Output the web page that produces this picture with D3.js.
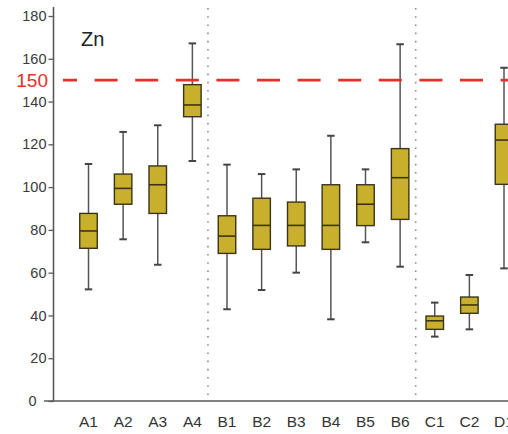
<!DOCTYPE html>
<html>
<head>
<meta charset="utf-8">
<script src="https://cdn.jsdelivr.net/npm/d3@7"></script>
<style>
  html, body { margin: 0; padding: 0; background: #fff; }
  svg { display: block; font-family: "Liberation Sans", Arial, sans-serif; }
</style>
</head>
<body>
<svg id="chart" width="508" height="434"></svg>
<script>
// Zn concentrations per sampling site (five-number summaries)
const sites   = ["A1", "A2", "A3", "A4", "B1", "B2", "B3", "B4", "B5", "B6", "C1", "C2", "D1"];
const minima  = [52.2, 75.6, 63.7, 112.2, 42.9, 51.9, 60.0, 38.2, 74.2, 62.8, 30.1, 33.5, 62.0];
const q1s     = [71.4, 92.0, 87.7, 132.9, 69.0, 70.9, 72.5, 70.9, 82.0, 84.9, 33.5, 41.0, 101.3];
const medians = [79.5, 99.4, 101.1, 138.4, 77.1, 82.1, 82.1, 82.1, 92.0, 104.4, 37.5, 44.9, 122.0];
const q3s     = [87.7, 106.1, 109.9, 147.9, 86.6, 94.8, 93.0, 101.1, 101.1, 118.0, 39.7, 48.6, 129.4];
const maxima  = [110.8, 125.8, 128.9, 167.2, 110.5, 106.1, 108.3, 124.0, 108.3, 166.8, 46.0, 58.9, 155.8];

const yTicks = [0, 20, 40, 60, 80, 100, 120, 140, 160, 180];
const limitValue = 150;
const groupBreaks = ["A4", "B6"];   // dotted separators drawn after these sites
const elementLabel = "Zn";

const svg = d3.select("#chart");

const y = d3.scaleLinear().domain([0, 180]).range([401, 16]);
const x = d3.scalePoint().domain(sites).range([88.5, 504]);
const step = x.step();

const boxW = 17.5, capW = 7.5;
const axisColor = "#5a5a5a";

// group separators
svg.append("g").selectAll("line")
  .data(groupBreaks)
  .join("line")
  .attr("x1", d => x(d) + step * 0.45)
  .attr("x2", d => x(d) + step * 0.45)
  .attr("y1", 8)
  .attr("y2", 401)
  .attr("stroke", "#8a8a8a")
  .attr("stroke-width", 1.6)
  .attr("stroke-dasharray", "1.6 6.6");

// boxes
const data = sites.map((s, i) => ({
  site: s, min: minima[i], q1: q1s[i], med: medians[i], q3: q3s[i], max: maxima[i]
}));

const g = svg.append("g").selectAll("g")
  .data(data)
  .join("g")
  .attr("transform", d => `translate(${x(d.site)},0)`);

// whiskers
g.append("line")
  .attr("x1", 0).attr("x2", 0)
  .attr("y1", d => y(d.max)).attr("y2", d => y(d.q3))
  .attr("stroke", "#555").attr("stroke-width", 1.5);
g.append("line")
  .attr("x1", 0).attr("x2", 0)
  .attr("y1", d => y(d.q1)).attr("y2", d => y(d.min))
  .attr("stroke", "#555").attr("stroke-width", 1.5);
g.append("line")
  .attr("x1", -capW / 2).attr("x2", capW / 2)
  .attr("y1", d => y(d.max)).attr("y2", d => y(d.max))
  .attr("stroke", "#444").attr("stroke-width", 2);
g.append("line")
  .attr("x1", -capW / 2).attr("x2", capW / 2)
  .attr("y1", d => y(d.min)).attr("y2", d => y(d.min))
  .attr("stroke", "#444").attr("stroke-width", 2);

// interquartile box
g.append("rect")
  .attr("x", -boxW / 2)
  .attr("width", boxW)
  .attr("y", d => y(d.q3))
  .attr("height", d => y(d.q1) - y(d.q3))
  .attr("fill", "#c9b02c")
  .attr("stroke", "#3a3418")
  .attr("stroke-width", 1.4);

// median
g.append("line")
  .attr("x1", -boxW / 2).attr("x2", boxW / 2)
  .attr("y1", d => y(d.med)).attr("y2", d => y(d.med))
  .attr("stroke", "#3f3412").attr("stroke-width", 1.6);

// limit line
svg.append("line")
  .attr("x1", 63).attr("x2", 508)
  .attr("y1", y(limitValue)).attr("y2", y(limitValue))
  .attr("stroke", "#e4302b")
  .attr("stroke-width", 2.8)
  .attr("stroke-dasharray", "23 17.6")
  .attr("stroke-dashoffset", 9);

svg.append("text")
  .attr("x", 48).attr("y", y(limitValue) + 7)
  .attr("text-anchor", "end")
  .attr("fill", "#e4302b")
  .attr("font-size", 19)
  .text(String(limitValue));

// y axis
const yAxis = svg.append("g")
  .attr("transform", "translate(53.5,0)")
  .call(d3.axisLeft(y).tickValues(yTicks).tickSize(5).tickPadding(2).tickSizeOuter(0));
yAxis.select(".domain").remove();
yAxis.selectAll(".tick line").attr("stroke", axisColor).attr("stroke-width", 1.3);
yAxis.selectAll(".tick text")
  .attr("fill", "#3a3a3a")
  .attr("font-size", 14.5)
  .attr("font-family", "\"Liberation Sans\", Arial, sans-serif")
  .attr("x", d => d === 0 ? -17 : -7);

svg.append("line")
  .attr("x1", 53.5).attr("x2", 53.5)
  .attr("y1", 7).attr("y2", 401)
  .attr("stroke", axisColor).attr("stroke-width", 1.6);

// x axis line
svg.append("line")
  .attr("x1", 44).attr("x2", 508)
  .attr("y1", 401).attr("y2", 401)
  .attr("stroke", axisColor).attr("stroke-width", 1.6);

// site labels
svg.append("g").selectAll("text")
  .data(sites)
  .join("text")
  .attr("x", d => x(d))
  .attr("y", 427)
  .attr("text-anchor", "middle")
  .attr("fill", "#333")
  .attr("font-size", 15.5)
  .text(d => d);

// element label
svg.append("text")
  .attr("x", 81).attr("y", 46)
  .attr("fill", "#222")
  .attr("font-size", 20)
  .text(elementLabel);
</script>
</body>
</html>
